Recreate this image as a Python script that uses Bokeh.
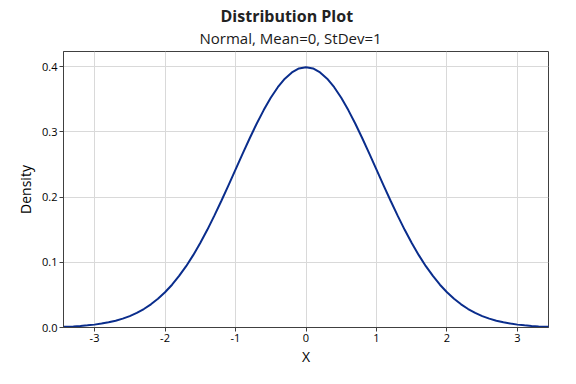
from bokeh.plotting import figure
from bokeh.models import Range1d, FixedTicker, Title, ColumnDataSource
from bokeh.embed import file_html
from bokeh.resources import INLINE

# Data (standard normal density)
x_vals = [-3.5, -3.4, -3.3, -3.2, -3.1, -3.0, -2.9, -2.8, -2.7, -2.6, -2.5, -2.4,
          -2.3, -2.2, -2.1, -2.0, -1.9, -1.8, -1.7, -1.6, -1.5, -1.4, -1.3, -1.2,
          -1.1, -1.0, -0.9, -0.8, -0.7, -0.6, -0.5, -0.4, -0.3, -0.2, -0.1, 0.0,
          0.1, 0.2, 0.3, 0.4, 0.5, 0.6, 0.7, 0.8, 0.9, 1.0, 1.1, 1.2,
          1.3, 1.4, 1.5, 1.6, 1.7, 1.8, 1.9, 2.0, 2.1, 2.2, 2.3, 2.4,
          2.5, 2.6, 2.7, 2.8, 2.9, 3.0, 3.1, 3.2, 3.3, 3.4, 3.5]
density = [0.0009, 0.0012, 0.0017, 0.0024, 0.0033, 0.0044, 0.0060, 0.0079, 0.0104, 0.0136, 0.0175, 0.0224,
           0.0283, 0.0355, 0.0440, 0.0540, 0.0656, 0.0790, 0.0940, 0.1109, 0.1295, 0.1497, 0.1714, 0.1942,
           0.2179, 0.2420, 0.2661, 0.2897, 0.3123, 0.3332, 0.3521, 0.3683, 0.3814, 0.3910, 0.3970, 0.3989,
           0.3970, 0.3910, 0.3814, 0.3683, 0.3521, 0.3332, 0.3123, 0.2897, 0.2661, 0.2420, 0.2179, 0.1942,
           0.1714, 0.1497, 0.1295, 0.1109, 0.0940, 0.0790, 0.0656, 0.0540, 0.0440, 0.0355, 0.0283, 0.0224,
           0.0175, 0.0136, 0.0104, 0.0079, 0.0060, 0.0044, 0.0033, 0.0024, 0.0017, 0.0012, 0.0009]
x_ticks = [-3, -2, -1, 0, 1, 2, 3]
y_ticks = [0.0, 0.1, 0.2, 0.3, 0.4]
title_text = "Distribution Plot"
subtitle_text = "Normal, Mean=0, StDev=1"
x_label = "X"
y_label = "Density"

FONT = "Open Sans"
AXIS_COLOR = "#404040"

p = figure(width=560, height=368, output_backend="svg", toolbar_location=None,
           x_range=Range1d(-3.44, 3.44), y_range=Range1d(0, 0.423),
           min_border_left=63, min_border_right=12, min_border_top=51, min_border_bottom=41)

src = ColumnDataSource(dict(x=x_vals, y=density))
p.line("x", "y", source=src, line_color="#0a2d8c", line_width=2.0)

p.outline_line_color = AXIS_COLOR
p.outline_line_width = 1
p.background_fill_color = "white"
p.border_fill_color = "white"

for g in (p.xgrid, p.ygrid):
    g.grid_line_color = "#d9d9d9"
    g.grid_line_width = 1

p.xaxis.ticker = FixedTicker(ticks=x_ticks)
p.yaxis.ticker = FixedTicker(ticks=y_ticks)
p.xgrid.ticker = FixedTicker(ticks=x_ticks)
p.ygrid.ticker = FixedTicker(ticks=y_ticks)
p.yaxis.major_label_overrides = {v: f"{v:.1f}" for v in y_ticks}
p.xaxis.major_label_overrides = {v: str(v) for v in x_ticks}

for ax in (p.xaxis[0], p.yaxis[0]):
    ax.axis_line_color = AXIS_COLOR
    ax.major_tick_line_color = AXIS_COLOR
    ax.major_tick_out = 4
    ax.major_tick_in = 0
    ax.minor_tick_line_color = None
    ax.major_label_text_font = FONT
    ax.major_label_text_font_size = "11px"
    ax.major_label_text_color = "black"
    ax.axis_label_text_font = FONT
    ax.axis_label_text_font_size = "14px"
    ax.axis_label_text_font_style = "normal"
    ax.axis_label_text_color = "black"

p.xaxis.axis_label = x_label
p.yaxis.axis_label = y_label
p.xaxis.major_label_standoff = 2
p.yaxis.major_label_standoff = 2
p.xaxis.axis_label_standoff = 2
p.yaxis.axis_label_standoff = 4

# Titles: subtitle nearest to the plot, main title above it
p.add_layout(Title(text=subtitle_text, align="left", offset=136, text_font=FONT,
                   text_font_size="15px", text_font_style="normal", text_color="#1a1a1a",
                   standoff=7), "above")
p.add_layout(Title(text=title_text, align="left", offset=157, text_font=FONT,
                   text_font_size="16px", text_font_style="bold", text_color="#222222",
                   standoff=-8), "above")

open("out.html", "w").write(file_html(p, INLINE))
